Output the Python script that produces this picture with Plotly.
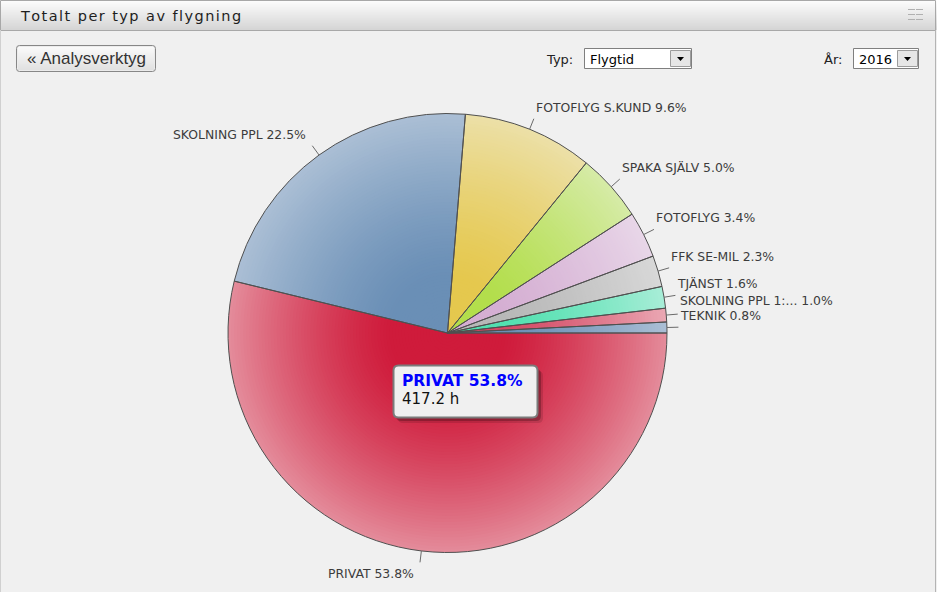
import math
import plotly.graph_objects as go

# --- data -------------------------------------------------------------
labels = ["PRIVAT", "SKOLNING PPL", "FOTOFLYG S.KUND", "SPAKA SJÄLV", "FOTOFLYG",
          "FFK SE-MIL", "TJÄNST", "SKOLNING PPL 1:...", "TEKNIK"]
hours = [417.2, 174.5, 74.4, 38.8, 26.4, 17.8, 12.4, 7.8, 6.2]

typ_value = "Flygtid"
year_value = "2016"
panel_title = "Totalt per typ av flygning"
back_button = "« Analysverktyg"

# --- styles -----------------------------------------------------------
inner_colors = ["#cf1b3b", "#6a8fb6", "#e5c84e", "#b3de4c", "#d5afd3",
                "#b8b8b8", "#52e0b0", "#d44a65", "#6a8fb6"]
outer_colors = ["#e48c9b", "#abbfd5", "#ece0a8", "#d6eba7", "#e8d6e8",
                "#d8d8d8", "#a8edd7", "#eaa8b4", "#abbfd5"]

W, H = 937, 592
CX, CY, R = 447.5, 333.0, 219.5
BG = "#f0f0f0"
LABEL_FONT = dict(family="DejaVu Sans", size=12.4, color="#3c3c3c")
LABEL_GAP = 15.0
UI_FONT = "DejaVu Sans"


def px(x):
    return x / W


def py(y):
    return 1 - y / H


def hex_rgb(h):
    h = h.lstrip("#")
    return tuple(int(h[i:i + 2], 16) for i in (0, 2, 4))


def mix(c1, c2, s):
    a, b = hex_rgb(c1), hex_rgb(c2)
    return "rgb(%d,%d,%d)" % tuple(round(a[i] + (b[i] - a[i]) * s) for i in range(3))


def domain_for(r):
    return dict(x=[px(CX - r), px(CX + r)], y=[py(CY + r), py(CY - r)])


fig = go.Figure()

# Radial shading: stacked pies, largest (lightest) first
N = 72
for k in range(N):
    t_outer = 1 - k / N
    t_mid = t_outer - 0.5 / N
    s = max(0.0, (t_mid - 0.25) / 0.75) ** 1.3
    cols = [mix(a, b, s) for a, b in zip(inner_colors, outer_colors)]
    fig.add_trace(go.Pie(
        labels=labels, values=hours, sort=False, direction="clockwise", rotation=90,
        marker=dict(colors=cols, line=dict(width=0)),
        textinfo="none", hoverinfo="skip", showlegend=False,
        domain=domain_for(R * t_outer),
    ))

# Slice outlines on top
fig.add_trace(go.Pie(
    labels=labels, values=hours, sort=False, direction="clockwise", rotation=90,
    marker=dict(colors=["rgba(0,0,0,0)"] * len(labels), line=dict(color="#505050", width=1)),
    textinfo="none", hoverinfo="skip", showlegend=False,
    domain=domain_for(R),
))

shapes = []
annotations = []

# --- outside labels with leader lines ---------------------------------
total = sum(hours)
placed = []
cum = 0.0
for lab, v in zip(labels, hours):
    frac = v / total
    mid = (cum + frac / 2) * 2 * math.pi  # clockwise from 3 o'clock
    cum += frac
    c, s = math.cos(mid), math.sin(mid)
    x0, y0 = CX + R * c, CY + R * s
    x1, y1 = CX + (R + 11.5) * c, CY + (R + 11.5) * s
    shapes.append(dict(type="line", xref="paper", yref="paper",
                       x0=px(x0), y0=py(y0), x1=px(x1), y1=py(y1),
                       line=dict(color="#6a6a6a", width=1)))
    placed.append(dict(text="%s %.1f%%" % (lab, frac * 100), x=x1, y=y1,
                       right=c >= 0, upper=s < 0))

# keep stacked labels on the right side from running into each other
right_upper = sorted([p for p in placed if p["right"] and p["upper"]], key=lambda p: -p["y"])
for prev, cur in zip(right_upper, right_upper[1:]):
    if prev["y"] - cur["y"] < LABEL_GAP:
        cur["y"] = prev["y"] - LABEL_GAP

for p in placed:
    annotations.append(dict(
        xref="paper", yref="paper", x=px(p["x"]), y=py(p["y"]), showarrow=False,
        text=p["text"], font=LABEL_FONT,
        xanchor="left" if p["right"] else "right",
        yanchor="bottom" if p["upper"] else "top",
        xshift=0 if p["right"] else -4, yshift=2 if p["upper"] else -2,
    ))


def rect(x0, y0, x1, y1, fill, line=None, lw=1, layer="above"):
    return dict(type="rect", xref="paper", yref="paper", layer=layer,
                x0=px(x0), y0=py(y0), x1=px(x1), y1=py(y1), fillcolor=fill,
                line=dict(color=line or "rgba(0,0,0,0)", width=lw if line else 0))


def rounded(x0, y0, x1, y1, r, fill, line=None, lw=1):
    pts = [
        "M %f,%f" % (px(x0 + r), py(y0)),
        "L %f,%f" % (px(x1 - r), py(y0)),
        "Q %f,%f %f,%f" % (px(x1), py(y0), px(x1), py(y0 + r)),
        "L %f,%f" % (px(x1), py(y1 - r)),
        "Q %f,%f %f,%f" % (px(x1), py(y1), px(x1 - r), py(y1)),
        "L %f,%f" % (px(x0 + r), py(y1)),
        "Q %f,%f %f,%f" % (px(x0), py(y1), px(x0), py(y1 - r)),
        "L %f,%f" % (px(x0), py(y0 + r)),
        "Q %f,%f %f,%f" % (px(x0), py(y0), px(x0 + r), py(y0)),
        "Z",
    ]
    return dict(type="path", xref="paper", yref="paper", layer="above",
                path=" ".join(pts), fillcolor=fill,
                line=dict(color=line or "rgba(0,0,0,0)", width=lw if line else 0))


def gradient_strips(x0, y0, x1, y1, top, bottom):
    n = int(round(y1 - y0))
    out = []
    for i in range(n):
        out.append(rect(x0, y0 + i, x1, y0 + i + 1.02, mix(top, bottom, i / max(1, n - 1))))
    return out


# --- panel frame and header -------------------------------------------
shapes += gradient_strips(0, 0, 937, 30, "#fdfdfd", "#d5d5d5")
shapes.append(rect(0.5, 0.5, 935.5, 30.5, "rgba(0,0,0,0)", "#a8a8a8"))
shapes.append(dict(type="line", xref="paper", yref="paper", x0=px(935.5), x1=px(935.5),
                   y0=py(30), y1=py(592), line=dict(color="#b4b4b4", width=1)))
shapes.append(dict(type="line", xref="paper", yref="paper", x0=px(0.5), x1=px(0.5),
                   y0=py(30), y1=py(592), line=dict(color="#d0d0d0", width=1)))
# header title is drawn with a little extra letter spacing (hair spaces)
spaced_title = "\u200a".join(panel_title)
annotations.append(dict(xref="paper", yref="paper", x=px(18), y=py(16), showarrow=False,
                        xanchor="left", yanchor="middle", text=spaced_title,
                        font=dict(family=UI_FONT, size=14.5, color="#1e1e1e")))
for gx in (908, 916):
    for gy in (9.5, 14.5, 19.5):
        shapes.append(dict(type="line", xref="paper", yref="paper",
                           x0=px(gx), x1=px(gx + 7), y0=py(gy), y1=py(gy),
                           line=dict(color="#b0b0b0", width=1)))

# --- back button --------------------------------------------------------
shapes.append(rounded(16.5, 45.5, 155.5, 71.5, 3, "#ececec", "#868686", 1))
shapes += gradient_strips(18, 47, 154, 70, "#f9f9f9", "#e1e1e1")
annotations.append(dict(xref="paper", yref="paper", x=px(86), y=py(58.5), showarrow=False,
                        xanchor="center", yanchor="middle", text=back_button,
                        font=dict(family="Liberation Sans", size=17, color="#333333")))

# --- selectors ----------------------------------------------------------
def dropdown(label, label_x, box_x0, box_x1, value):
    annotations.append(dict(xref="paper", yref="paper", x=px(label_x), y=py(59), showarrow=False,
                            xanchor="left", yanchor="middle", text=label,
                            font=dict(family=UI_FONT, size=13, color="#222222")))
    shapes.append(rect(box_x0 + 0.5, 48.5, box_x1 + 0.5, 68.5, "#ffffff", "#7f7f7f"))
    annotations.append(dict(xref="paper", yref="paper", x=px(box_x0 + 4), y=py(59), showarrow=False,
                            xanchor="left", yanchor="middle", text=value,
                            font=dict(family=UI_FONT, size=13, color="#000000")))
    bx0, bx1 = box_x1 - 21, box_x1 - 1
    shapes.append(rect(bx0 + 0.5, 50.5, bx1 + 0.5, 66.5, "#e6e6e6", "#9c9c9c"))
    cx = (bx0 + bx1) / 2 + 0.5
    shapes.append(dict(type="path", xref="paper", yref="paper", layer="above",
                       path="M %f,%f L %f,%f L %f,%f Z" % (px(cx - 3.5), py(57), px(cx + 3.5), py(57),
                                                           px(cx), py(61)),
                       fillcolor="#000000", line=dict(width=0)))


dropdown("Typ:", 544, 584, 691, typ_value)
dropdown("År:", 822, 853, 918, year_value)

# --- tooltip for the largest slice ----------------------------------------
shapes.append(rounded(398, 371, 543, 423, 5, "rgba(0,0,0,0.12)"))
shapes.append(rounded(396, 369, 541, 421, 5, "rgba(0,0,0,0.22)"))
shapes.append(rounded(393.5, 365.5, 537.5, 417.5, 5, "#f0f0f0", "#7b7b7b", 2))
top_pct = hours[0] / total * 100
annotations.append(dict(xref="paper", yref="paper", x=px(400), y=py(381), showarrow=False,
                        xanchor="left", yanchor="middle",
                        text="<b>%s %.1f%%</b>" % (labels[0], top_pct),
                        font=dict(family=UI_FONT, size=15.5, color="#0000ff")))
annotations.append(dict(xref="paper", yref="paper", x=px(400), y=py(399.5), showarrow=False,
                        xanchor="left", yanchor="middle",
                        text="%.1f h" % hours[0],
                        font=dict(family=UI_FONT, size=15, color="#111111")))

fig.update_layout(
    width=W, height=H,
    margin=dict(l=0, r=0, t=0, b=0),
    paper_bgcolor=BG, plot_bgcolor=BG,
    shapes=shapes, annotations=annotations,
    showlegend=False,
)

fig.write_html("out.html")
